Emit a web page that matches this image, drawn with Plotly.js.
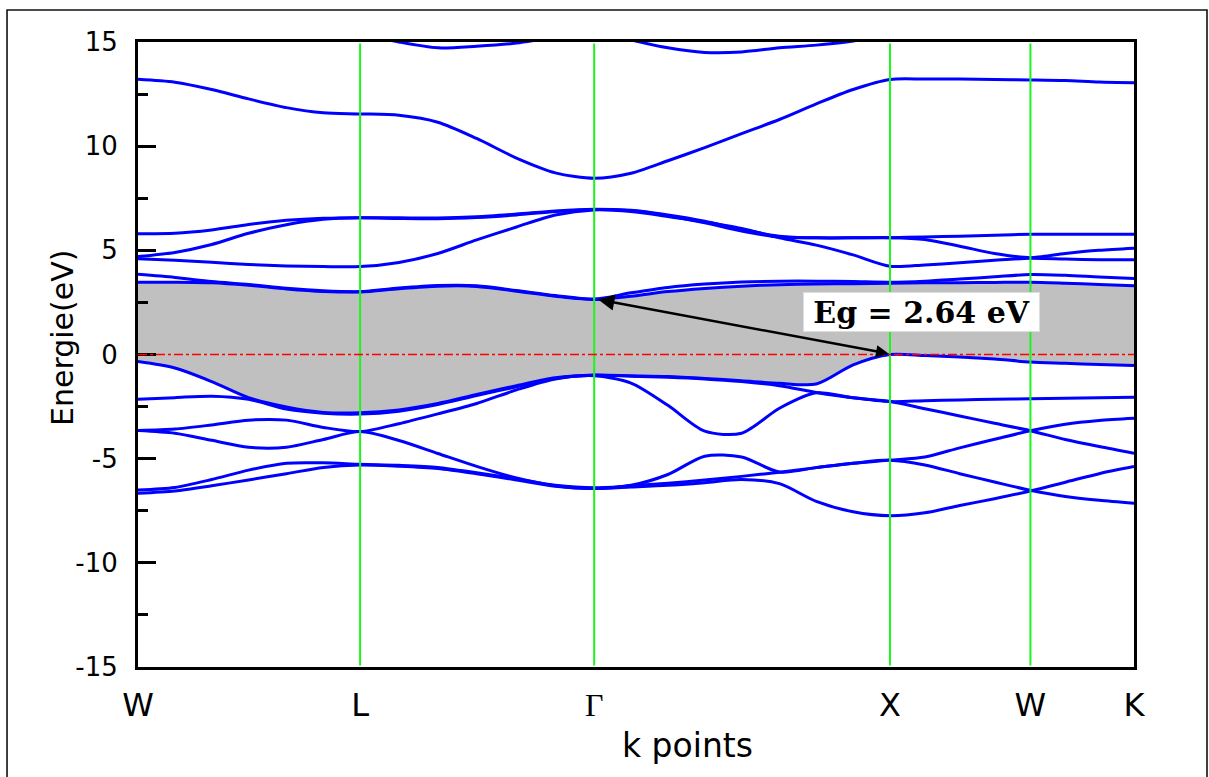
<!DOCTYPE html>
<html>
<head>
<meta charset="utf-8">
<script src="https://cdn.plot.ly/plotly-3.0.1.min.js"></script>
<style>html,body{margin:0;padding:0;background:#fff;}#chart{width:1209px;height:777px;}</style>
</head>
<body>
<div id="chart"></div>
<script>
// k-path sample points (fraction of path length W-L-Γ-X-W-K)
const kPath = [0, 0.037, 0.074, 0.111, 0.149, 0.186, 0.223,
               0.262, 0.301, 0.340, 0.380, 0.419, 0.458,
               0.495, 0.532, 0.569, 0.606, 0.644, 0.681, 0.718, 0.755,
               0.790, 0.825, 0.860, 0.896,
               0.931, 0.965, 1.000];
const symPos = [0, 0.223, 0.458, 0.755, 0.896, 1.0];
const symLabels = ['W', 'L', 'Γ', 'X', 'W', 'K'];
const energyTicks = [-15, -10, -5, 0, 5, 10, 15];
const energyTickText = ['-15', '-10', '-5', '0', '5', '10', '15'];

// valence bands (eV)
const vb1 = [-0.34, -0.65, -1.30, -2.07, -2.52, -2.78, -2.80, -2.66, -2.35, -1.92, -1.50, -1.12, -0.98, -1.02, -1.06, -1.15, -1.26, -1.38, -1.42, -0.50, 0.00, -0.05, -0.12, -0.22, -0.36, -0.42, -0.48, -0.53];
const vb2 = [-2.15, -2.07, -2.00, -2.15, -2.62, -2.82, -2.86, -2.72, -2.40, -1.97, -1.55, -1.15, -1.00, -1.04, -1.09, -1.17, -1.30, -1.50, -1.82, -2.08, -2.26, -2.22, -2.18, -2.15, -2.12, -2.10, -2.07, -2.05];
const vb3 = [-3.65, -3.58, -3.38, -3.15, -3.15, -3.50, -3.70, -3.32, -2.85, -2.35, -1.70, -1.18, -1.02, -1.37, -2.44, -3.68, -3.78, -2.58, -1.84, -2.08, -2.26, -2.60, -2.95, -3.30, -3.66, -4.08, -4.42, -4.74];
const vb4 = [-3.65, -3.78, -4.12, -4.45, -4.45, -4.08, -3.70, -4.13, -4.75, -5.37, -5.93, -6.30, -6.43, -6.28, -5.76, -4.88, -4.92, -5.64, -5.43, -5.22, -5.07, -4.92, -4.48, -4.07, -3.66, -3.35, -3.17, -3.06];
const vb5 = [-6.50, -6.38, -6.00, -5.55, -5.22, -5.20, -5.27, -5.32, -5.42, -5.68, -5.97, -6.28, -6.40, -6.30, -6.18, -6.02, -5.85, -5.65, -5.43, -5.22, -5.07, -5.30, -5.72, -6.12, -6.52, -6.82, -7.00, -7.14];
const vb6 = [-6.66, -6.55, -6.30, -6.02, -5.72, -5.42, -5.30, -5.36, -5.47, -5.72, -6.02, -6.32, -6.43, -6.36, -6.28, -6.15, -6.00, -6.20, -7.05, -7.55, -7.74, -7.60, -7.25, -6.92, -6.55, -6.13, -5.72, -5.38];

// conduction bands (eV)
const cb1 = [3.47, 3.47, 3.44, 3.32, 3.15, 3.03, 3.00, 3.16, 3.28, 3.27, 3.04, 2.80, 2.64, 2.80, 3.02, 3.17, 3.28, 3.35, 3.38, 3.40, 3.42, 3.44, 3.45, 3.46, 3.47, 3.42, 3.36, 3.30];
const cb2 = [3.85, 3.70, 3.50, 3.36, 3.18, 3.06, 3.02, 3.19, 3.31, 3.30, 3.07, 2.83, 2.66, 2.96, 3.22, 3.38, 3.48, 3.52, 3.52, 3.50, 3.47, 3.52, 3.62, 3.73, 3.84, 3.80, 3.72, 3.65];
const cb3 = [4.60, 4.53, 4.43, 4.32, 4.25, 4.22, 4.22, 4.42, 4.85, 5.50, 6.12, 6.70, 6.94, 6.86, 6.62, 6.36, 6.05, 5.60, 5.25, 4.78, 4.24, 4.30, 4.40, 4.52, 4.62, 4.58, 4.55, 4.55];
const cb4 = [4.70, 4.90, 5.28, 5.82, 6.23, 6.49, 6.56, 6.53, 6.52, 6.58, 6.70, 6.86, 6.96, 6.92, 6.70, 6.40, 6.00, 5.68, 5.60, 5.60, 5.61, 5.52, 5.20, 4.85, 4.65, 4.85, 5.00, 5.10];
const cb5 = [5.80, 5.82, 5.98, 6.24, 6.44, 6.54, 6.57, 6.56, 6.55, 6.61, 6.74, 6.89, 6.97, 6.90, 6.66, 6.32, 5.93, 5.64, 5.60, 5.60, 5.61, 5.64, 5.68, 5.73, 5.77, 5.77, 5.77, 5.77];
const cb6 = [13.21, 13.07, 12.72, 12.27, 11.85, 11.60, 11.55, 11.48, 11.15, 10.37, 9.43, 8.72, 8.46, 8.70, 9.30, 9.93, 10.60, 11.28, 12.03, 12.72, 13.20, 13.22, 13.22, 13.20, 13.18, 13.15, 13.08, 13.05];
const cb7 = [17.0, 17.0, 16.8, 16.5, 16.2, 15.8, 15.4, 15.0, 14.72, 14.80, 14.95, 15.25, 15.55, 15.10, 14.72, 14.50, 14.52, 14.72, 14.85, 15.05, 15.40, 15.80, 16.2, 16.5, 16.6, 16.6, 16.6, 16.6];

const bands = [vb1, vb2, vb3, vb4, vb5, vb6, cb1, cb2, cb3, cb4, cb5, cb6, cb7];

const gap = Math.min(...cb1) - Math.max(...vb1);

const traces = [];
// band-gap shading between top valence band and bottom conduction band
traces.push({x: kPath, y: vb1, mode: 'lines', line: {width: 0, shape: 'spline', smoothing: 0.8}, hoverinfo: 'skip'});
traces.push({x: kPath, y: cb1, mode: 'lines', fill: 'tonexty', fillcolor: '#c0c0c0',
             line: {width: 0, shape: 'spline', smoothing: 0.8}, hoverinfo: 'skip'});
bands.forEach(b => traces.push({
  x: kPath, y: b, mode: 'lines',
  line: {color: '#0000ff', width: 3, shape: 'spline', smoothing: 0.8}
}));

const shapes = [];
symPos.slice(1, -1).forEach(k => shapes.push({
  type: 'line', xref: 'x', yref: 'y', x0: k, x1: k, y0: -14.93, y1: 14.93,
  line: {color: '#1cf51c', width: 2}, layer: 'above'
}));
shapes.push({type: 'line', xref: 'paper', yref: 'y', x0: 0, x1: 1, y0: 0, y1: 0,
             line: {color: '#ff0000', width: 1.3, dash: 'dashdot'}, layer: 'above'});
// outer frame
shapes.push({type: 'rect', xref: 'paper', yref: 'paper', x0: -0.1315, x1: 1.0733, y0: -0.2, y1: 1.0512,
             line: {color: '#111', width: 1.6}, fillcolor: 'rgba(0,0,0,0)', layer: 'below'});

const tickText = symLabels.map(l => l === 'Γ' ? '<span style="font-family:Liberation Serif">Γ</span>' : l);

const layout = {
  width: 1209, height: 777,
  margin: {l: 138, r: 75, t: 42, b: 110},
  paper_bgcolor: '#ffffff', plot_bgcolor: '#ffffff',
  showlegend: false,
  xaxis: {
    range: [0, 1], tickmode: 'array', tickvals: symPos, ticktext: tickText,
    showgrid: false, zeroline: false, showline: true, linecolor: '#000', linewidth: 3, mirror: true,
    ticks: '', tickfont: {family: 'DejaVu Sans', size: 32, color: '#000'}, ticklabelstandoff: 8
  },
  yaxis: {
    range: [-15, 15], tickmode: 'array', tickvals: energyTicks, ticktext: energyTickText,
    showgrid: false, zeroline: false, showline: true, linecolor: '#000', linewidth: 3, mirror: true,
    ticks: 'inside', ticklen: 18, tickwidth: 3, tickcolor: '#000',
    minor: {ticks: 'inside', ticklen: 10, tickwidth: 3, tickcolor: '#000', tickmode: 'linear', tick0: -15, dtick: 2.5},
    tickfont: {family: 'DejaVu Sans', size: 26, color: '#000'}, ticklabelstandoff: 12
  },
  shapes: shapes,
  annotations: [
    {x: symPos[2] + 0.004, y: gap, xref: 'x', yref: 'y', ax: symPos[3], ay: 0.03, axref: 'x', ayref: 'y',
     text: '', showarrow: true, arrowhead: 2, arrowsize: 1.3, arrowwidth: 2.5, arrowcolor: '#000',
     arrowside: 'end+start', startarrowhead: 2, startarrowsize: 1.0, standoff: 0, startstandoff: 0},
    {x: 0.787, y: 2.04, xref: 'x', yref: 'y', text: '<b>Eg = ' + gap.toFixed(2) + ' eV</b>', showarrow: false,
     font: {family: 'DejaVu Serif', size: 30, color: '#000'}, bgcolor: '#ffffff',
     bordercolor: '#dddddd', borderwidth: 1, borderpad: 0, width: 235, height: 38, align: 'center', valign: 'middle'},
    {x: -0.0763, y: 0.5264, xref: 'paper', yref: 'paper', text: 'Energie(eV)', textangle: -90, showarrow: false,
     xanchor: 'center', yanchor: 'middle', font: {family: 'DejaVu Sans', size: 30, color: '#000'}},
    {x: 0.552, y: -0.1248, xref: 'paper', yref: 'paper', text: 'k points', showarrow: false,
     xanchor: 'center', yanchor: 'middle', font: {family: 'DejaVu Sans', size: 33, color: '#000'}}
  ]
};

Plotly.newPlot('chart', traces, layout, {staticPlot: true, displayModeBar: false});
</script>
</body>
</html>
